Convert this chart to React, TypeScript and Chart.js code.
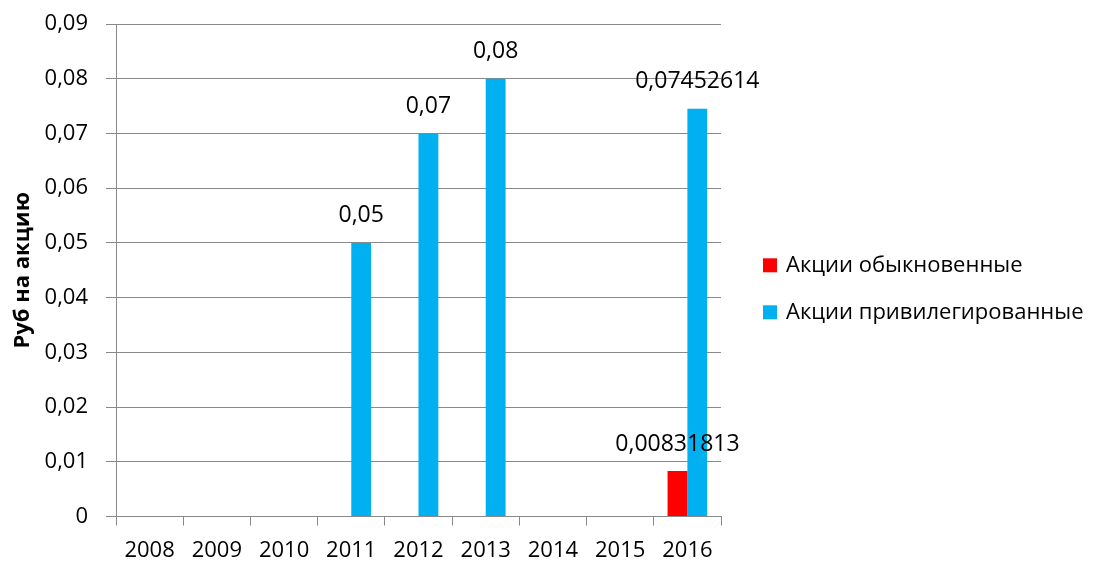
import React, { useEffect, useRef } from "react";
import { Chart, registerables } from "chart.js";

Chart.register(...registerables);

const categories = ["2008", "2009", "2010", "2011", "2012", "2013", "2014", "2015", "2016"];
const ordinaryValues: (number | null)[] = [null, null, null, null, null, null, null, null, 0.00831813];
const preferredValues: (number | null)[] = [null, null, null, 0.05, 0.07, 0.08, null, null, 0.07452614];
const seriesNames = ["Акции обыкновенные", "Акции привилегированные"];
const seriesColors = ["#FF0000", "#00B0F0"];
const yTitle = "Руб на акцию";

const FONT = "'Open Sans', sans-serif";
const GRID = "#898989";

const fmt = (v: number) => String(v).replace(".", ",");

const dataLabels = {
  id: "dataLabels",
  afterDatasetsDraw(chart: any) {
    const ctx = chart.ctx;
    ctx.save();
    ctx.font = `23px ${FONT}`;
    ctx.fillStyle = "#000";
    ctx.textAlign = "center";
    ctx.textBaseline = "middle";
    chart.data.datasets.forEach((ds: any, di: number) => {
      const meta = chart.getDatasetMeta(di);
      meta.data.forEach((el: any, i: number) => {
        const v = ds.data[i];
        if (v === null || v === undefined) return;
        ctx.fillText(fmt(v), el.x, el.y - 27);
      });
    });
    ctx.restore();
  },
};

const sideLegend = {
  id: "sideLegend",
  afterDraw(chart: any) {
    const ctx = chart.ctx;
    const area = chart.chartArea;
    const x = area.right + 42;
    const yMid = (area.top + area.bottom) / 2;
    ctx.save();
    ctx.font = `22px ${FONT}`;
    ctx.textBaseline = "middle";
    ctx.textAlign = "left";
    chart.data.datasets.forEach((ds: any, i: number) => {
      const y = yMid - 5 + i * 47;
      ctx.fillStyle = ds.backgroundColor;
      ctx.fillRect(x, y - 7, 14, 14);
      ctx.fillStyle = "#000";
      ctx.fillText(ds.label, x + 23, y);
    });
    ctx.restore();
  },
};

export default function App() {
  const ref = useRef<HTMLCanvasElement | null>(null);
  useEffect(() => {
    if (!ref.current) return;
    const chart = new Chart(ref.current, {
      type: "bar",
      data: {
        labels: categories,
        datasets: [
          { label: seriesNames[0], data: ordinaryValues, backgroundColor: seriesColors[0], barPercentage: 1, categoryPercentage: 0.59 },
          { label: seriesNames[1], data: preferredValues, backgroundColor: seriesColors[1], barPercentage: 1, categoryPercentage: 0.59 },
        ],
      },
      options: {
        animation: false,
        responsive: true,
        maintainAspectRatio: false,
        layout: { padding: { left: 0, right: 375, top: 24, bottom: -13 } },
        plugins: {
          legend: { display: false },
          tooltip: { enabled: false },
        },
        scales: {
          x: {
            grid: { drawOnChartArea: false, drawTicks: true, tickLength: 9, color: GRID, offset: true },
            border: { color: GRID, width: 1 },
            ticks: { color: "#000", font: { family: FONT, size: 22 }, padding: 12, maxRotation: 0 },
          },
          y: {
            min: 0,
            max: 0.09,
            afterFit: (scale: any) => {
              scale.width = 116;
              scale.paddingTop = 0;
            },
            ticks: {
              stepSize: 0.01,
              color: "#000",
              font: { family: FONT, size: 22 },
              padding: 18,
              callback: (v: any) => (Number(v) === 0 ? "0" : Number(v).toFixed(2).replace(".", ",")),
            },
            grid: { color: GRID, tickLength: 10, lineWidth: 1 },
            border: { color: GRID, width: 1 },
            title: { display: true, text: yTitle, color: "#000", font: { family: FONT, size: 22, weight: "bold" }, padding: { top: 10, bottom: 4 } },
          },
        },
      },
      plugins: [dataLabels, sideLegend],
    });
    return () => chart.destroy();
  }, []);
  return (
    <div style={{ position: "fixed", left: 0, top: 0, width: 1096, height: 563, background: "#fff" }}>
      <canvas ref={ref} />
    </div>
  );
}
